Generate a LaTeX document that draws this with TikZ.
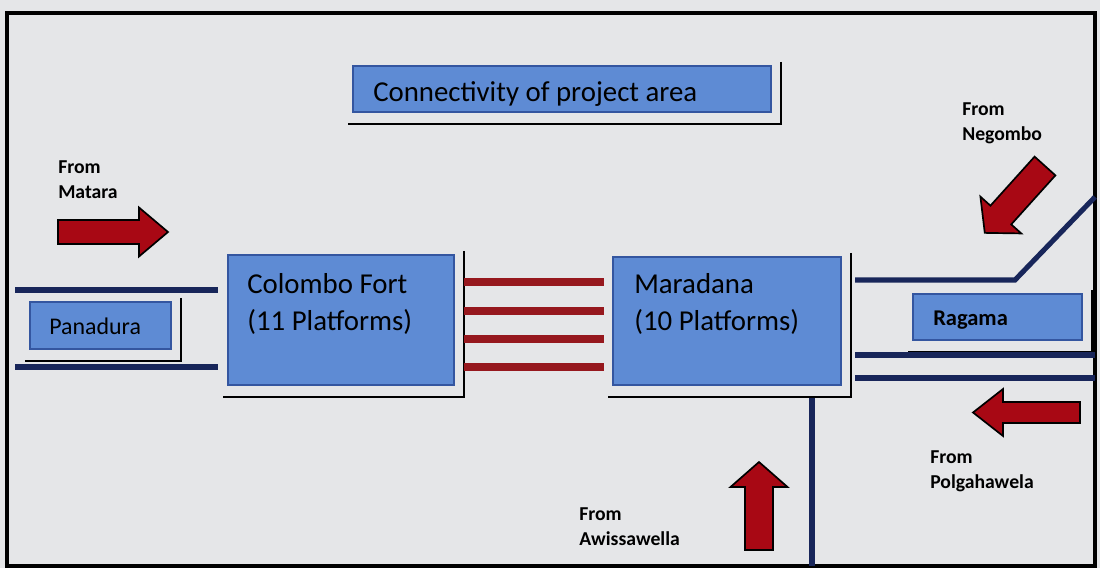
\documentclass[tikz,border=0pt]{standalone}
\usepackage{fontspec}
\setmainfont{Carlito}
\usetikzlibrary{calc,positioning}

\definecolor{paper}{RGB}{229,230,232}
\definecolor{boxblue}{RGB}{94,139,212}
\definecolor{boxedge}{RGB}{52,86,160}
\definecolor{tracknavy}{RGB}{24,38,90}
\definecolor{trackred}{RGB}{150,24,30}
\definecolor{arrowred}{RGB}{168,8,20}

\tikzset{
  stationbox/.style={draw=boxedge, fill=boxblue, line width=1pt, inner sep=0pt, outer sep=0pt},
  shadowline/.style={line width=1.9pt, black},
  navytrack/.style={line width=3.6pt, tracknavy},
  redtrack/.style={line width=5.5pt, trackred},
  bigname/.style={font=\fontsize{20.5}{26.3}\selectfont, align=left, inner sep=0pt, anchor=base west},
  fromlabel/.style={font=\fontsize{14}{17.8}\selectfont\bfseries, align=left, inner sep=0pt, anchor=north west},
  pics/bigarrow/.style args={#1/#2/#3/#4}{code={
    \filldraw[fill=arrowred, draw=black, line width=1.2pt, line join=miter]
      (0,-#2) -- (#1-#4,-#2) -- (#1-#4,-#3) -- (#1,0) -- (#1-#4,#3) -- (#1-#4,#2) -- (0,#2) -- cycle;
  }}
}

\begin{document}
\begin{tikzpicture}[x=0.025cm,y=-0.025cm]
    \fill[paper] (0,0) rectangle (1100,568);
    \draw[line width=2.2pt] (7,13) rectangle (1095,566);

    % stations
    \node[stationbox, minimum width=418*0.025cm, minimum height=46*0.025cm] (title) at (562,89) {};
    \node[stationbox, minimum width=141*0.025cm, minimum height=47*0.025cm] (panadura) at (100.5,325.5) {};
    \node[stationbox, minimum width=226*0.025cm, minimum height=130*0.025cm] (colombo) at (341,320) {};
    \node[stationbox, minimum width=228*0.025cm, minimum height=128*0.025cm] (maradana) at (727,321) {};
    \node[stationbox, minimum width=169*0.025cm, minimum height=46*0.025cm] (ragama) at (997.5,317) {};

    \foreach \b in {title,panadura,colombo,maradana,ragama}
      \draw[shadowline] ($(\b.north east)+(10,-4)$) |- ($(\b.south west)+(-5,12)$);

    \node[bigname] (titleText) at (373,102) {Connectivity of project area};
    \node[bigname] (colomboText) at (247,330) {Colombo Fort\\(11 Platforms)};
    \node[bigname] (maradanaText) at (634,330) {Maradana\\(10 Platforms)};
    \node[bigname, font=\fontsize{17}{20}\selectfont] (panaduraText) at (49,334) {Panadura};
    \node[bigname, font=\fontsize{16}{20}\selectfont\bfseries] (ragamaText) at (933,325) {Ragama};

    % tracks
    \foreach \y in {282,311,339,367}
      \draw[redtrack] ($(colombo.east |- 0,\y)+(10,0)$) -- ($(maradana.west |- 0,\y)+(-9,0)$);

    \coordinate (westA) at (15,290);
    \coordinate (westB) at (15,367);
    \draw[navytrack] (westA) -- ($(colombo.west |- westA)+(-10,0)$);
    \draw[navytrack] (westB) -- ($(colombo.west |- westB)+(-10,0)$);

    \coordinate (bend) at (1015,280);
    \coordinate (northEnd) at (1095,197);
    \coordinate (eastA) at (1095,355);
    \coordinate (eastB) at (1095,378);
    \coordinate (southEnd) at (812,566);
    \draw[navytrack] ($(maradana.east |- bend)+(14,0)$) -- (bend) -- (northEnd);
    \draw[navytrack] ($(maradana.east |- eastA)+(14,0)$) -- (eastA);
    \draw[navytrack] ($(maradana.east |- eastB)+(14,0)$) -- (eastB);
    \draw[navytrack] ($(maradana.south |- southEnd)+(85,-168)$) -- (southEnd);

    % incoming lines
    \pic at (58,232) {bigarrow=110/12/24.5/29};
    \pic[rotate=228] at (1045,166) {bigarrow=90/14/27.5/24};
    \pic[rotate=180] at (1080,412.5) {bigarrow=107/10.5/23.5/30};
    \pic[rotate=90] at (759,550) {bigarrow=88/14/28.5/25};

    \node[fromlabel] (fromMatara) at (58,160) {From\\Matara};
    \node[fromlabel] (fromNegombo) at (962,102) {From\\Negombo};
    \node[fromlabel] (fromPolgahawela) at (930,450) {From\\Polgahawela};
    \node[fromlabel] (fromAwissawella) at (579,507) {From\\Awissawella};
\end{tikzpicture}
\end{document}
